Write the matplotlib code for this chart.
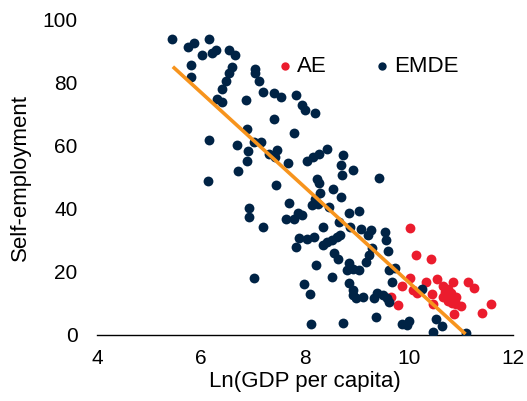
import matplotlib.pyplot as plt
import numpy as np

plt.rcParams['font.family'] = ['Liberation Sans', 'DejaVu Sans']

# points in pixel space, converted to data below
emde_px = [
    (172.5, 38.7), (187.7, 47.3), (194.3, 43.3), (209, 38.7), (202.3, 54.7),
    (212.3, 53.3), (216, 50), (229.3, 50), (234.7, 55.3), (190.7, 65.3),
    (191.3, 77), (232, 67.3), (228.7, 73.3), (225.7, 81.3), (222.3, 88.7),
    (217, 99.3), (221.7, 102), (245.7, 100), (255.3, 68.7), (255.3, 73.3),
    (259.3, 80.7), (262.7, 92), (274, 92.7), (281.3, 96.7), (274, 118.7),
    (247.3, 128.7), (209.3, 140), (208.3, 181.3), (294, 133.3), (296, 94.7),
    (301.7, 105), (305.5, 109.5), (315.3, 112.7), (236.7, 145), (248.3, 151),
    (254.3, 142), (261.3, 142), (277, 149.5), (269.5, 154), (275, 157),
    (288.5, 162.5), (247.3, 161), (237.7, 170.7), (276, 185.3), (307.3, 160.5),
    (313.5, 157.3), (319.5, 153.7), (327.3, 149), (342.7, 155.3), (340.7, 165.3),
    (342, 174.7), (353.3, 170), (378.7, 178.3), (316.7, 179.3), (319.3, 183),
    (333.3, 188.5), (341.3, 196.7), (320, 193.3), (315.3, 198.7), (312, 205.3),
    (318.3, 204), (329, 206.7), (289, 202.7), (248.7, 207.5), (249.3, 217.5),
    (262.7, 227.5), (286, 218.7), (294.5, 219.5), (298.3, 212.7), (301.7, 215),
    (322.7, 226.7), (338.7, 222), (348.7, 213.3), (359.3, 211), (350.5, 227),
    (361.3, 228.7), (371.5, 229.7), (385.5, 232.5), (368.3, 235.3), (299.3, 238.5),
    (307.3, 239.5), (314, 237.5), (296, 247.3), (322.7, 245), (327, 242.5),
    (332, 240), (336.7, 237.3), (340.5, 235), (386.5, 240.5), (388.3, 251.5),
    (334, 252.7), (338.5, 259.3), (349.5, 263), (316, 265.3), (346.7, 270),
    (352.7, 269.5), (359.3, 270), (366.5, 262), (369.5, 255), (371.7, 248.3),
    (389.3, 270), (395, 268), (392, 282), (332, 276.7), (304, 284.3),
    (310, 294), (349, 282.7), (353.3, 290), (352.7, 295.5), (356, 298.3),
    (362.7, 296.7), (374, 298.3), (377.3, 292.7), (383.3, 295), (386.7, 298.3),
    (389.3, 301.7), (310.7, 324), (343.3, 322.7), (376, 317.3), (401.7, 323.7),
    (406.7, 325.5), (409.3, 321), (421.7, 289), (436.5, 319), (441.7, 325.7),
    (432.7, 331.8), (466, 333.5), (254, 278),
]
ae_px = [
    (410.3, 227.7), (416.5, 255), (431.3, 259.3), (410, 278.5), (402, 285.8),
    (391, 297), (398.5, 305.2), (413.3, 290), (416.7, 293.3), (426.5, 281.7),
    (436.7, 279.2), (431.7, 294.2), (433.3, 303.8), (442.7, 286.5), (448.3, 289.5),
    (453.3, 281.7), (442.7, 297.5), (446.7, 296), (450.7, 293.3), (448.3, 301),
    (452.7, 303.3), (454, 314.5), (456.7, 304.5), (461.7, 305.8), (468.3, 281.7),
    (474, 288), (491.2, 304.3), (482, 313.2), (445, 292), (456, 297),
]

def to_data(pts):
    a = np.array(pts, dtype=float)
    return 4 + (a[:, 0] - 97) / 52, (335 - a[:, 1]) / 3.16

emde_x, emde_y = to_data(emde_px)
ae_x, ae_y = to_data(ae_px)

trend_x = [5.46, 11.09]
trend_y = [84.9, 0.3]

fig = plt.figure(figsize=(5.27, 4.01), dpi=100)
ax = fig.add_axes([0.184, 0.1646, 0.789, 0.788])

ax.scatter(ae_x, ae_y, s=50, color='#EB1C2D', label='AE', zorder=2, linewidths=0)
ax.scatter(emde_x, emde_y, s=50, color='#002345', label='EMDE', zorder=3, linewidths=0)
ax.plot(trend_x, trend_y, color='#F7941D', lw=2.6, zorder=4, solid_capstyle='butt')

ax.set_xlim(4, 12)
ax.set_ylim(0, 100)
ax.set_xticks([4, 6, 8, 10, 12])
ax.set_yticks([0, 20, 40, 60, 80, 100])
ax.tick_params(length=0, labelsize=15)
ax.tick_params(axis='x', pad=10)
ax.tick_params(axis='y', pad=14)
for s in ['top', 'right', 'left']:
    ax.spines[s].set_visible(False)
ax.spines['bottom'].set_color('black')
ax.spines['bottom'].set_linewidth(1)

ax.set_xlabel('Ln(GDP per capita)', fontsize=16, labelpad=2)
ax.set_ylabel('Self-employment', fontsize=16, labelpad=8)

ax.legend(loc='center', bbox_to_anchor=(0.65, 0.851), ncol=2, frameon=False,
          fontsize=16, handlelength=0.8, handletextpad=0.15, columnspacing=2.1,
          markerscale=0.85, borderpad=0)

fig.savefig('out.png', dpi=100)
